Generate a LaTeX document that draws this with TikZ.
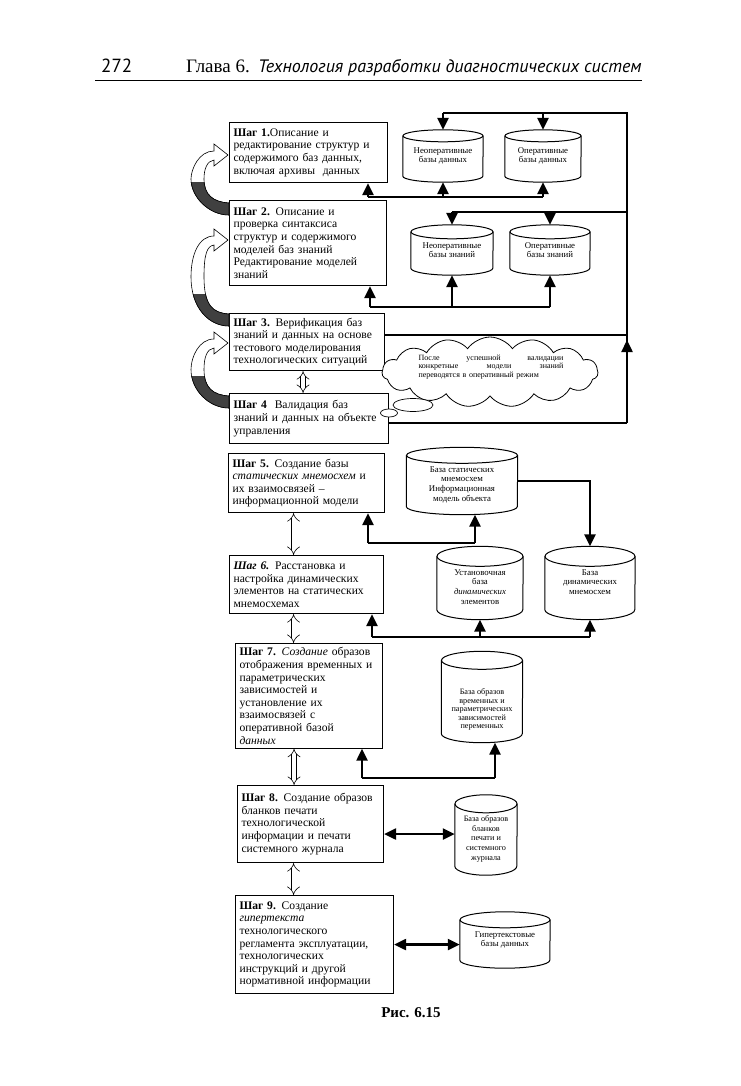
\documentclass[tikz,border=0pt]{standalone}
\usepackage{fontspec}
\setmainfont{Liberation Serif}
\newfontfamily\headsans{PT Sans}
\usetikzlibrary{shapes.geometric, shapes.symbols, arrows.meta, positioning, calc}

% band of the curved return arrow (local coordinates, #1 = rise to the tip)
\newcommand{\bandpath}[1]{(0,0) .. controls (-16,-1) and (-25,-8) .. (-25,-#1/2)
      .. controls (-25,-#1+14) and (-22,-#1+6) .. (-15,-#1+5) -- (-15,-#1+11) -- (-1,-#1)
      -- (-15,-#1-11) -- (-15,-#1-4) .. controls (-30,-#1-4) and (-38,-#1+14) .. (-38,-#1/2)
      .. controls (-38,-6) and (-20,12) .. (0,12) -- cycle}
% curved return arrow on the left: start point on the lower box, rise to the tip
\newcommand{\turnarrow}[2]{%
  \begin{scope}[shift={(#1)}]
    \filldraw[fill=white, line width=0.6pt] \bandpath{#2};
    \begin{scope}
      \clip (-45,-20) rectangle (2,16);
      \filldraw[fill=black!75, line width=0.6pt] \bandpath{#2};
    \end{scope}
  \end{scope}}
% cylinder outline round a base node: node, x radius, y radius of the ends
\newcommand{\cylframe}[3]{%
  \draw[line width=1pt] ([yshift=-#3pt]#1.north west) -- ([yshift=#3pt]#1.south west)
    arc[start angle=180, end angle=360, x radius=#2pt, y radius=#3pt] -- ([yshift=-#3pt]#1.north east);
  \draw[line width=1pt] ([yshift=-#3pt]#1.north) ellipse [x radius=#2pt, y radius=#3pt];}
% text of a base, lowered by #1
\newcommand{\lowtext}[2]{\raisebox{-#1pt}[0pt][0pt]{\begin{tabular}{@{}c@{}}#2\end{tabular}}}

\begin{document}
\begin{tikzpicture}[x=1pt, y=-1pt]
\tikzstyle{stepbox} = [rectangle, draw, line width=1.1pt, fill=white, anchor=north west, align=left, inner sep=4pt, font=\fontsize{11.6}{12.6}\selectfont]
\tikzstyle{dbase} = [rectangle, align=center, inner sep=0pt, font=\fontsize{8.8}{9.6}\selectfont]
\tikzstyle{bus} = [line width=2.4pt]
\tikzstyle{arr} = [line width=2.4pt, -{Triangle[width=11pt,length=12pt]}]
\tikzstyle{darr} = [line width=2.4pt, {Triangle[width=11pt,length=12pt]}-{Triangle[width=11pt,length=12pt]}]
\tikzstyle{hollow} = [double, double distance=4pt, line width=0.6pt, {Implies}-{Implies}]

\useasboundingbox (0,0) rectangle (740,1086);
\fill[white] (0,0) rectangle (740,1086);

% page header
\node (page) [anchor=base west, inner sep=0, font=\headsans\fontsize{19}{19}\selectfont] at (101,73) {272};
\node (chap) [anchor=base west, inner sep=0, font=\fontsize{19}{19}\selectfont] at (186,73) {Глава 6.};
\node (title) [anchor=base west, inner sep=0, font=\headsans\itshape\fontsize{18}{18}\selectfont] at (258,73) {Технология разработки диагностических систем};
\draw[line width=1pt] (95,81) -- (642,81);

% steps
\node (s1) [stepbox, text width=150, minimum height=60] at (229,122) {\textbf{Шаг 1.}Описание и\\редактирование структур и\\содержимого баз данных,\\включая архивы \ данных};
\node (s2) [stepbox, text width=149, minimum height=85] at (229,200) {\textbf{Шаг 2.} Описание и\\проверка синтаксиса\\структур и содержимого\\моделей баз знаний\\Редактирование моделей\\знаний};
\node (s3) [stepbox, text width=147, minimum height=57] at (229,313) {\textbf{Шаг 3.} Верификация баз\\знаний и данных на основе\\тестового моделирования\\технологических ситуаций};
\node (s4) [stepbox, text width=151, minimum height=50] at (229,393) {\textbf{Шаг 4} \ Валидация баз\\знаний и данных на объекте\\управления};
\node (s5) [stepbox, text width=148, minimum height=59] at (228,453) {\textbf{Шаг 5.} Создание базы\\\textit{статических мнемосхем} и\\их взаимосвязей --\\информационной модели};
\node (s6) [stepbox, text width=146, minimum height=58] at (229,555) {\textbf{\textit{Шаг 6.}} Расстановка и\\настройка динамических\\элементов на статических\\мнемосхемах};
\node (s7) [stepbox, text width=139, minimum height=102] at (235,643) {\textbf{Шаг 7.} \textit{Создание} образов\\отображения временных и\\параметрических\\зависимостей и\\установление их\\взаимосвязей с\\оперативной базой\\\textit{данных}};
\node (s8) [stepbox, text width=138, minimum height=77] at (237,785) {\textbf{Шаг 8.} Создание образов\\бланков печати\\технологической\\информации и печати\\системного журнала};
\node (s9) [stepbox, text width=150, minimum height=98] at (235,895) {\textbf{Шаг 9.} Создание\\\textit{гипертекста}\\технологического\\регламента эксплуатации,\\технологических\\инструкций и другой\\нормативной информации};

% return arrows on the left
\turnarrow{$(s2.north west)+(0,3)$}{48}
\turnarrow{$(s3.north west)+(0,1)$}{74}
\turnarrow{$(s4.north west)+(0,3)$}{53}

% data and knowledge bases
\node (db1a) [dbase, minimum width=80, minimum height=52] at (443,156) {Неоперативные\\базы данных};
\node (db1b) [dbase, minimum width=76, minimum height=52] at (543,156) {Оперативные\\базы данных};
\node (db2a) [dbase, minimum width=82, minimum height=50] at (452,250) {Неоперативные\\базы знаний};
\node (db2b) [dbase, minimum width=80, minimum height=50] at (550,250) {Оперативные\\базы знаний};
\node (db3) [dbase, minimum width=111, minimum height=67] at (462,481) {\lowtext{6}{База статических\\мнемосхем\\Информационная\\модель объекта}};
\node (db4a) [dbase, minimum width=86, minimum height=73] at (480,583) {\lowtext{7}{Установочная\\база\\\textit{динамических}\\элементов}};
\node (db4b) [dbase, minimum width=90, minimum height=73] at (590,583) {\lowtext{2}{База\\динамических\\мнемосхем}};
\node (db5) [dbase, minimum width=81, minimum height=91, font=\fontsize{8.2}{8.6}\selectfont] at (482,697) {\lowtext{15}{База образов\\временных и\\параметрических\\зависимостей\\переменных}};
\node (db6) [dbase, minimum width=62, minimum height=80, font=\fontsize{8.2}{9.6}\selectfont] at (486,835) {\lowtext{6}{База образов\\бланков\\печати и\\системного\\журнала}};
\node (db7) [dbase, minimum width=90, minimum height=56] at (505,940) {Гипертекстовые\\базы данных};
\foreach \db/\rx/\ry in {db1a/40/6, db1b/38/6, db2a/41/7, db2b/40/7, db3/55.5/8, db4a/43/10, db4b/45/10, db5/40.5/9, db6/31/9, db7/45/8} {
    \cylframe{\db}{\rx}{\ry}
}

% cloud note
\node (cloud) [cloud, draw, line width=0.8pt, fill=white, cloud puffs=15, cloud puff arc=110, aspect=3.3, minimum width=216, minimum height=70, inner sep=0] at (490,372) {};
\node (note) [font=\fontsize{8}{8.4}\selectfont, text width=145, align=left, inner sep=0] at (491,367) {После\hfill успешной\hfill валидации\\конкретные\hfill модели\hfill знаний\\переводятся в оперативный режим};
\node (bub1) [ellipse, draw, line width=0.7pt, fill=white, minimum width=40, minimum height=13, inner sep=0] at (413,405) {};
\node (bub2) [ellipse, draw, line width=0.7pt, fill=white, minimum width=17, minimum height=8, inner sep=0] at (389,413) {};

% right-hand feedback bus
\coordinate (rt) at (627,113);
\coordinate (r2) at (627,212);
\coordinate (r3) at (627,335);
\coordinate (rb) at (627,423);
\draw[bus] (s4.east |- rb) -- (rb);
\draw[arr] (rb) -- (627,340);
\draw[bus] (627,345) -- (rt) -- (rt -| db1a.north);
\draw[bus] (s3.east |- r3) -- (r3);
\draw[bus] (r2) -- (r2 -| db2a.north);
\foreach \db in {db1a, db1b} {
    \draw[arr] (rt -| \db.north) -- (\db.north);
}
\foreach \db in {db2a, db2b} {
    \draw[arr] (r2 -| \db.north) -- (\db.north);
}

% buses under the rows
\coordinate (b1) at (368,197);
\draw[bus] (b1) -- (b1 -| db1b.south);
\draw[arr] (b1) -- (b1 |- s1.south);
\foreach \db in {db1a, db1b} {
    \draw[arr] (b1 -| \db.south) -- (\db.south);
}
\coordinate (b2) at (370,307);
\draw[bus] (b2) -- (b2 -| db2b.south);
\draw[arr] (b2) -- (b2 |- s2.south);
\foreach \db in {db2a, db2b} {
    \draw[arr] (b2 -| \db.south) -- (\db.south);
}
\coordinate (b3) at (368,543);
\coordinate (b3r) at (475,543);
\draw[bus] (b3) -- (b3r);
\draw[arr] (b3) -- (b3 |- s5.south);
\draw[arr] (b3r) -- (b3r |- db3.south);
\draw[arr] (db3.east) -| (db4b.north);
\coordinate (b4) at (372,637);
\draw[bus] (b4) -- (b4 -| db4b.south);
\draw[arr] (b4) -- (b4 |- s6.south);
\foreach \db in {db4a, db4b} {
    \draw[arr] (b4 -| \db.south) -- (\db.south);
}
\coordinate (b5) at (362,778);
\coordinate (b5r) at (495,778);
\draw[bus] (b5) -- (b5r);
\draw[arr] (b5) -- (b5 |- s7.south);
\draw[arr] (b5r) -- (b5r |- db5.south);
\draw[darr] ([yshift=-10]s8.east) -- ([yshift=-10]s8.east -| db6.west);
\draw[darr] (s9.east) -- (s9.east -| db7.west);

% links between steps
\draw[hollow] ([xshift=-4]s3.south) -- ([xshift=-4]s3.south |- s4.north);
\draw[hollow] ([xshift=-13]s5.south) -- ([xshift=-13]s5.south |- s6.north);
\draw[hollow] ([xshift=-13]s6.south) -- ([xshift=-13]s6.south |- s7.north);
\draw[hollow] ([xshift=-15]s7.south) -- ([xshift=-15]s7.south |- s8.north);
\draw[hollow] ([xshift=-17]s8.south) -- ([xshift=-17]s8.south |- s9.north);

% caption
\node (caption) [font=\bfseries\fontsize{15}{15}\selectfont] at (411,1013) {Рис. 6.15};

\end{tikzpicture}
\end{document}
